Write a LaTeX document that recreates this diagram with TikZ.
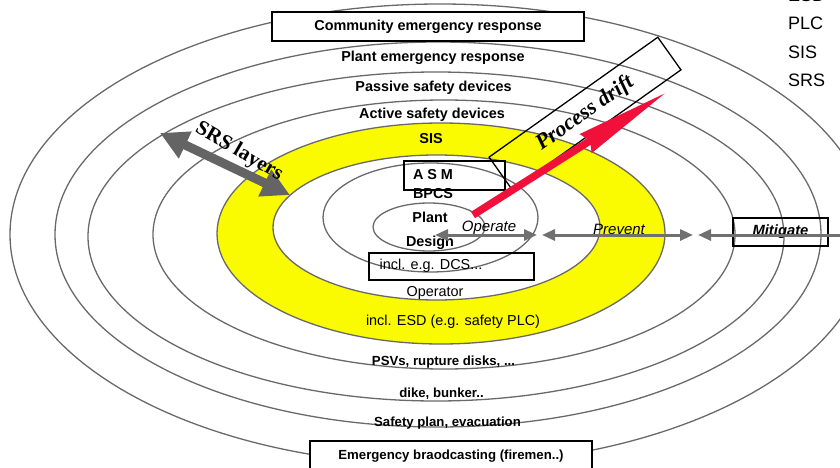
\documentclass[tikz,border=0pt]{standalone}
\usepackage{fontspec}
\setmainfont{Liberation Sans}
\newfontfamily\timesfont{Liberation Serif}
\usepackage{tikz}
\usetikzlibrary{arrows.meta}
\definecolor{ringgray}{RGB}{105,105,105}
\definecolor{arrowgray}{RGB}{112,112,112}
\definecolor{srsgray}{RGB}{100,100,100}
\definecolor{sisyellow}{RGB}{250,250,0}
\definecolor{driftred}{RGB}{240,16,58}

\begin{document}
\begin{tikzpicture}[
    x=1pt, y=1pt,
    ring/.style={draw=ringgray, line width=1.3pt},
    layerlbl/.style={font=\fontsize{14.4}{16}\selectfont\bfseries, inner sep=0pt},
    layerlblsm/.style={font=\fontsize{13.2}{15}\selectfont\bfseries, inner sep=0pt},
    notelbl/.style={font=\fontsize{14.4}{16}\selectfont, inner sep=0pt},
    movelbl/.style={font=\fontsize{15}{17}\selectfont\itshape, inner sep=0pt},
    abbrlbl/.style={font=\fontsize{18}{20}\selectfont, inner sep=0pt, anchor=west},
    boxed/.style={draw=black, line width=1.6pt},
    flowarrow/.style={draw=arrowgray, line width=3pt, {Triangle[length=13pt,width=11pt]}-{Triangle[length=13pt,width=11pt]}},
    srsarrow/.style={draw=srsgray, line width=9pt, {Triangle[length=28pt,width=28pt]}-{Triangle[length=28pt,width=28pt]}},
    driftarrow/.style={draw=driftred, line width=7.5pt, -{Stealth[length=95pt,width=21pt,inset=4pt]}},
]
\useasboundingbox (0,0) rectangle (840,-468);

% SIS band
\fill[sisyellow, even odd rule]
  (441,-233.5) ellipse [x radius=224pt, y radius=110.5pt]
  (436.5,-227.5) ellipse [x radius=163.5pt, y radius=72.5pt];

% Layer rings (centre, radii)
\foreach \cx/\cy/\rx/\ry in {
  440/-234.5/430pt/230.5pt,
  438/-234.5/383pt/192.5pt,
  436/-236.5/348pt/164.5pt,
  444/-234.5/291pt/134.5pt,
  441/-233.5/224pt/110.5pt,
  436.5/-227.5/163.5pt/72.5pt,
  430.5/-217.5/107.5pt/54.5pt,
  429/-227/56pt/24pt
}{
  \draw[ring] (\cx,\cy) ellipse [x radius=\rx, y radius=\ry];
}

% Layer names, upper half
\node[boxed, fill=white, minimum width=312pt, minimum height=29pt, layerlbl] (community) at (428,-26.5) {Community emergency response};
\foreach \txt/\xpos/\ypos [count=\i] in {
  {Plant emergency response}/433/-58,
  {Passive safety devices}/433.5/-88,
  {Active safety devices}/432/-115,
  {SIS}/431/-139,
  {A S M}/433/-175,
  {BPCS}/433/-194,
  {Plant}/430/-217,
  {Design}/430/-243
}{
  \node[layerlbl] (upper\i) at (\xpos,\ypos) {\txt};
}
\node[boxed, minimum width=101pt, minimum height=29pt] (asmbox) at (454.5,-175.5) {};

% Layer notes, lower half
\node[boxed, minimum width=165pt, minimum height=27pt] (dcsbox) at (451.5,-266.5) {};
\node[notelbl] (dcs) at (431,-266) {incl. e.g. DCS...};
\node[notelbl] (operator) at (435,-293) {Operator};
\node[notelbl] (esd) at (453,-322) {incl. ESD (e.g. safety PLC)};
\foreach \txt/\xpos/\ypos [count=\i] in {
  {PSVs, rupture disks, ...}/443.5/-362,
  {dike, bunker..}/441.5/-394,
  {Safety plan, evacuation}/447.5/-423
}{
  \node[layerlblsm] (lower\i) at (\xpos,\ypos) {\txt};
}
\node[boxed, fill=white, minimum width=282pt, minimum height=30pt, layerlblsm] (broadcast) at (451,-456) {Emergency braodcasting (firemen..)};

% Operate / Prevent / Mitigate
\node[movelbl] (operate) at (489,-228) {Operate};
\node[movelbl] (prevent) at (619,-229) {Prevent};
\node[boxed, minimum width=95pt, minimum height=28pt, font=\fontsize{14.8}{16}\selectfont\bfseries\itshape] (mitigate) at (780.5,-232) {Mitigate};
\coordinate (opL) at (435,-235);
\coordinate (opR) at (537,-235);
\coordinate (prL) at (542,-235);
\coordinate (prR) at (693,-235);
\coordinate (miL) at (698,-235);
\coordinate (miR) at (862,-235);
\draw[flowarrow] (opL) -- (opR);
\draw[flowarrow] (prL) -- (prR);
\draw[flowarrow] (miL) -- (miR);

% SRS layers
\coordinate (srsA) at (160,-133);
\coordinate (srsB) at (290,-195);
\draw[srsarrow] (srsA) -- (srsB);
\node[font=\timesfont\bfseries\fontsize{21}{23}\selectfont, rotate=-30, inner sep=0pt] (srstxt) at (239,-152) {SRS layers};

% Process drift
\node[draw=black, line width=1.3pt, rotate=35.4, minimum width=207pt, minimum height=40pt, font=\timesfont\bfseries\itshape\fontsize{22}{24}\selectfont] (drift) at (585,-113.5) {Process drift};
\coordinate (driftA) at (473,-215);
\coordinate (driftB) at (667,-92);
\draw[driftarrow] (driftA) -- (driftB);

% Abbreviations
\foreach \abbr/\ypos in {ESD/4.5, PLC/-23, SIS/-52, SRS/-80}{
  \node[abbrlbl] (abbr\abbr) at (788,\ypos) {\abbr};
}

\end{tikzpicture}
\end{document}
